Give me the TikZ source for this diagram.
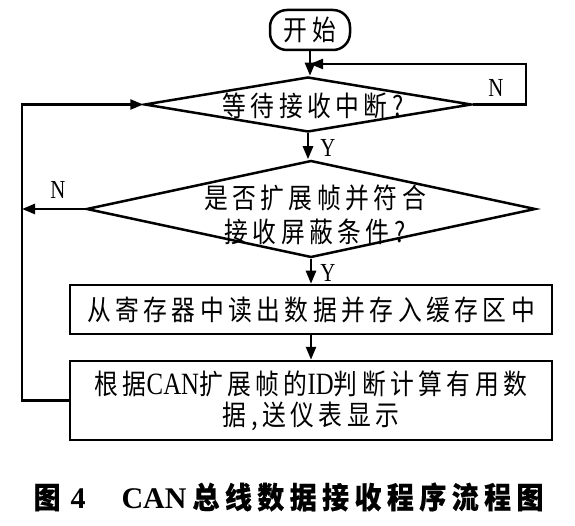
\documentclass[tikz,border=0pt]{standalone}
\usepackage{fontspec}
\setmainfont{Liberation Serif}
\newfontfamily\cjk{Noto Sans CJK SC}[FakeStretch=0.85,LetterSpace=16]
\newfontfamily\cjkcap{Noto Sans CJK SC}[FakeStretch=0.9,LetterSpace=18,FakeBold=0.3]
\newfontfamily\lat{Liberation Serif}[FakeStretch=0.8]
\usetikzlibrary{shapes.geometric,arrows.meta}
\begin{document}
\begin{tikzpicture}[x=1pt,y=-1pt,
  flow/.style={line width=2.5pt},
  arr/.style={flow,-{Triangle[length=13pt,width=10pt]}},
  dia/.style={diamond,draw,line width=2.5pt,inner sep=0pt},
  procbox/.style={rectangle,draw,line width=2.5pt,inner sep=0pt,minimum width=482pt,
    font=\fontsize{28}{31}\cjk,align=center},
  txt/.style={inner sep=0pt,font=\fontsize{28}{34}\cjk,align=center},
  lbl/.style={inner sep=0pt,font=\fontsize{26}{26}\lat}]
\useasboundingbox (0,0) rectangle (575,526);

\node[rectangle,draw,line width=2.5pt,rounded corners=17pt,minimum width=80pt,minimum height=40pt,inner sep=0pt,
  font=\fontsize{28}{30}\cjk] (start) at (310,30) {开始};

\node[dia,minimum width=327pt,minimum height=55pt] (d1) at (308,104.5) {};
\node[txt] (t1) at (313,106) {等待接收中断?};

\node[dia,minimum width=449pt,minimum height=97pt] (d2) at (311,209) {};
\node[txt] (t2) at (315,215) {是否扩展帧并符合\\接收屏蔽条件?};

\node[procbox,minimum height=49pt] (b1) at (311,309.5) {从寄存器中读出数据并存入缓存区中};
\node[procbox,minimum height=79pt] (b2) at (311,400.5)
  {根据{\fontsize{31}{31}\lat CAN}扩展帧的{\fontsize{31}{31}\lat ID}判断计算有用数\\据,送仪表显示};

\coordinate (lx) at (22,0);
\coordinate (r1) at (526,104.5);
\coordinate (r2) at (526,64);
\coordinate (j1) at (310,64);

\draw[arr] (start.south) -- (start.south |- d1.north);
\draw[arr] (d1.east) -- (r1) -- (r2) -- (j1);
\draw[arr] (d1.south) -- (d1.south |- d2.north);
\draw[arr] (d2.south) -- (d2.south |- b1.north);
\draw[arr] (b1.south) -- (b1.south |- b2.north);
\draw[arr] (d2.west) -- (d2.west -| lx);
\draw[arr] (b2.west) -- (b2.west -| lx) |- (d1.west);

\node[lbl] (n1) at (496,88) {N};
\node[lbl] (n2) at (58,190) {N};
\node[lbl] (y1) at (328,148) {Y};
\node[lbl] (y2) at (328,273) {Y};

\node[inner sep=0pt,font=\fontsize{30}{32}\bfseries] (cap) at (288.5,497)
  {{\cjkcap 图}\hspace{10pt}4\hspace{36pt}CAN\hspace{6pt}{\cjkcap 总线数据接收程序流程图}};
\end{tikzpicture}
\end{document}
